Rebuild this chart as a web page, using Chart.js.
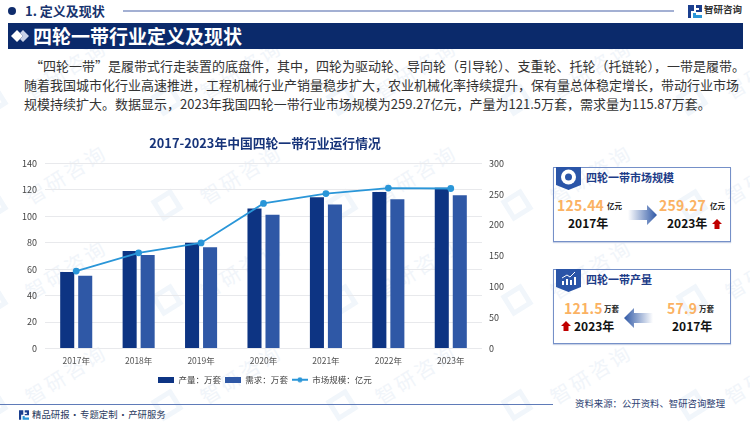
<!DOCTYPE html>
<html lang="zh">
<head>
<meta charset="utf-8">
<title>四轮一带行业定义及现状</title>
<script src="https://cdn.jsdelivr.net/npm/chart.js@4"></script>
<style>
  html, body { margin: 0; padding: 0; background: #fff; }
  body { width: 750px; height: 422px; position: relative; overflow: hidden;
         font-family: "Noto Sans CJK SC", "Noto Sans", sans-serif; }
  .abs { position: absolute; white-space: nowrap; line-height: 1; }
  .para { position: absolute; white-space: nowrap; font-size: 13px; line-height: 16px; color: #333;
          text-align: justify; text-align-last: justify; }
  .card { position: absolute; left: 553px; width: 178px; height: 75px; box-sizing: border-box;
          border: 1px solid #7590c8; box-shadow: 0 1px 1px #c9d2e6; }
  .num { color: #fbb263; font-weight: 700; font-size: 14px; letter-spacing: 0.2px; }
  .unit { color: #222; font-weight: 700; font-size: 7.5px; }
  .yr { color: #111; font-weight: 700; font-size: 12px; }
  .cardTitle { color: #1d3c88; font-weight: 700; font-size: 11px; }
  .wm { position: absolute; color: #f1f5fa; font-size: 20px; letter-spacing: 3px;
        transform: rotate(-32deg); white-space: nowrap; line-height: 1; }
  .wmMark { position: absolute; width: 24px; height: 24px; border: 5px solid #f1f6fb; box-sizing: border-box;
            transform: rotate(-32deg); }
  #chartBox { position: absolute; left: 10px; top: 132px; width: 510px; height: 262px; }
</style>
</head>
<body>
<div id="wmLayer"></div>

<!-- top strip -->
<div class="abs" style="left:8px;top:7px;width:8px;height:8px;border-radius:50%;background:#0f2c6c"></div>
<div class="abs" style="left:25px;top:4px;font-size:13px;font-weight:700;color:#17346f">1. 定义及现状</div>
<div class="abs" style="left:123px;top:10px;width:551px;height:2px;background:#a3b0d3"></div>
<svg class="abs" style="left:688px;top:5px" width="14" height="13" viewBox="0 0 14 13">
  <path d="M0 0h6v6H3v7H0z M8 0h6v7H8V5h3V3H8z" fill="#1b3f8f"/><path d="M5 8h3v2h6v3H5z" fill="#2a96d8"/>
</svg>
<div class="abs" style="left:704px;top:5px;font-size:9.5px;font-weight:700;color:#333">智研咨询</div>

<!-- header bar -->
<div class="abs" style="left:8px;top:23px;width:735px;height:26px;background:#0b2a6b"></div>
<svg class="abs" style="left:11px;top:29px" width="18" height="14" viewBox="0 0 18 14">
  <path d="M6 1l6 6-6 6-6-6z" fill="#fff"/><path d="M12 1l6 6-6 6-3-3 3-3-3-3z" fill="#c8d2e8"/>
</svg>
<div class="abs" style="left:33px;top:26px;font-size:19px;font-weight:700;color:#fff">四轮一带行业定义及现状</div>

<!-- intro text -->
<div class="para" style="left:30px;top:58px;width:700px">“四轮一带”是履带式行走装置的底盘件&#xFF0C;其中&#xFF0C;四轮为驱动轮、导向轮&#xFF08;引导轮&#xFF09;、支重轮、托轮&#xFF08;托链轮&#xFF09;&#xFF0C;一带是履带。</div>
<div class="para" style="left:24px;top:77px;width:701px">随着我国城市化行业高速推进&#xFF0C;工程机械行业产销量稳步扩大&#xFF0C;农业机械化率持续提升&#xFF0C;保有量总体稳定增长&#xFF0C;带动行业市场</div>
<div class="para" style="left:24px;top:96px;width:663px">规模持续扩大。数据显示&#xFF0C;2023年我国四轮一带行业市场规模为259.27亿元&#xFF0C;产量为121.5万套&#xFF0C;需求量为115.87万套。</div>

<div id="chartBox"><canvas id="mainChart"></canvas></div>

<!-- market size card -->
<div class="card" style="top:167px"></div>
<svg class="abs" style="left:556px;top:167px" width="25" height="23" viewBox="0 0 25 23">
  <path d="M0 0h25v18l-12.5 5L0 18z" fill="#2a55a8"/>
  <circle cx="12.5" cy="10" r="7.5" fill="#fff"/><circle cx="12.5" cy="10" r="3.5" fill="#2a55a8"/>
</svg>
<div class="abs cardTitle" style="left:586px;top:172px">四轮一带市场规模</div>
<div class="abs num" style="left:557px;top:198px">125.44</div>
<div class="abs unit" style="left:607px;top:202px">亿元</div>
<div class="abs yr" style="left:568px;top:217px">2017年</div>
<svg class="abs" style="left:628px;top:205px" width="29" height="20" viewBox="0 0 29 20">
  <defs><linearGradient id="gr" x1="0" x2="1" y1="0" y2="0"><stop offset="0" stop-color="#2f58a6" stop-opacity="0"/><stop offset="1" stop-color="#2f58a6"/></linearGradient></defs>
  <path d="M0 5h19V0l10 10-10 10v-5H0z" fill="url(#gr)"/>
</svg>
<div class="abs num" style="left:659px;top:198px">259.27</div>
<div class="abs unit" style="left:710px;top:202px">亿元</div>
<div class="abs yr" style="left:667px;top:217px">2023年</div>
<svg class="abs" style="left:712px;top:219px" width="10" height="10" viewBox="0 0 10 10"><path d="M5 0l5 5H7.5v5h-5V5H0z" fill="#c00000"/></svg>

<!-- output card -->
<div class="card" style="top:269px"></div>
<svg class="abs" style="left:556px;top:269px" width="25" height="23" viewBox="0 0 25 23">
  <path d="M0 0h25v18l-12.5 5L0 18z" fill="#2a55a8"/>
  <path d="M6 16v-4h2v4z M10 16v-6h2v6z M14 16v-5h2v5z M18 16V8h2v8z" fill="#fff"/>
  <path d="M6 9l5-3 3 2 5-5" stroke="#fff" fill="none"/>
</svg>
<div class="abs cardTitle" style="left:586px;top:274px">四轮一带产量</div>
<div class="abs num" style="left:564px;top:301px">121.5</div>
<div class="abs unit" style="left:604px;top:305px">万套</div>
<svg class="abs" style="left:561px;top:321px" width="10" height="10" viewBox="0 0 10 10"><path d="M5 0l5 5H7.5v5h-5V5H0z" fill="#c00000"/></svg>
<div class="abs yr" style="left:574px;top:320px">2023年</div>
<svg class="abs" style="left:624px;top:308px" width="29" height="20" viewBox="0 0 29 20">
  <defs><linearGradient id="gl" x1="0" x2="1" y1="0" y2="0"><stop offset="0" stop-color="#2f58a6"/><stop offset="1" stop-color="#2f58a6" stop-opacity="0"/></linearGradient></defs>
  <path d="M29 5H10V0L0 10l10 10v-5h19z" fill="url(#gl)"/>
</svg>
<div class="abs num" style="left:667px;top:301px">57.9</div>
<div class="abs unit" style="left:699px;top:305px">万套</div>
<div class="abs yr" style="left:672px;top:320px">2017年</div>

<!-- footer -->
<div class="abs" style="left:0;top:404px;width:553px;height:1px;background:#5f7bb8"></div>
<svg class="abs" style="left:19px;top:410px" width="10" height="10" viewBox="0 0 14 13">
  <path d="M0 0h6v6H3v7H0z M8 0h6v7H8V5h3V3H8z" fill="#1b3f8f"/><path d="M5 8h3v2h6v3H5z" fill="#2a96d8"/>
</svg>
<div class="abs" style="left:32px;top:410px;font-size:9.4px;word-spacing:-1.5px;color:#2b3a5e">精品研报 · 专题定制 · 产研服务</div>
<div class="abs" style="left:575px;top:399px;font-size:9.4px;color:#2d3f73">资料来源&#xFF1A;公开资料、智研咨询整理</div>

<script>
// data
const YEARS = ["2017年","2018年","2019年","2020年","2021年","2022年","2023年"];
const OUTPUT = [57.9, 73.7, 80, 105.8, 114.3, 118.3, 121.5];
const DEMAND = [55.1, 70.7, 76.5, 101.2, 108.8, 112.8, 115.87];
const MARKET = [125.44, 155, 171, 235, 251, 260, 259.27];
const LEFT_TICKS = [0, 20, 40, 60, 80, 100, 120, 140];
const RIGHT_TICKS = [0, 50, 100, 150, 200, 250, 300];

const DARK = "#0d3483";
const MID = "#2f58a6";
const SKY = "#2a96d8";
const FONT = '"Noto Sans CJK SC", "Noto Sans", sans-serif';

// pale watermark behind everything
const wmLayer = document.getElementById("wmLayer");
[65, 240, 415, 590, 765].forEach(cx => {
  [70, 175, 270, 375].forEach(cy => {
    const t = document.createElement("div");
    t.className = "wm"; t.textContent = "智研咨询";
    t.style.left = (cx - 45) + "px"; t.style.top = (cy - 11) + "px";
    wmLayer.appendChild(t);
    const m = document.createElement("div");
    m.className = "wmMark";
    m.style.left = (cx - 85) + "px"; m.style.top = (cy + 18) + "px";
    wmLayer.appendChild(m);
  });
});

// legend swatches
function barSwatch(color) {
  const c = document.createElement("canvas");
  c.width = 16; c.height = 6;
  const g = c.getContext("2d");
  g.fillStyle = color; g.fillRect(0, 0, 16, 6);
  return c;
}
function lineSwatch(color) {
  const c = document.createElement("canvas");
  c.width = 16; c.height = 6;
  const g = c.getContext("2d");
  g.fillStyle = color; g.fillRect(0, 2, 16, 2);
  g.beginPath(); g.arc(8, 3, 2.5, 0, Math.PI * 2); g.fill();
  return c;
}

new Chart(document.getElementById("mainChart"), {
  data: {
    labels: YEARS,
    datasets: [
      { type: "bar", label: "产量\uFF1A万套", data: OUTPUT, yAxisID: "y", order: 1,
        backgroundColor: DARK, categoryPercentage: 0.577, barPercentage: 0.78 },
      { type: "bar", label: "需求\uFF1A万套", data: DEMAND, yAxisID: "y", order: 2,
        backgroundColor: MID, categoryPercentage: 0.577, barPercentage: 0.78 },
      { type: "line", label: "市场规模\uFF1A亿元", data: MARKET, yAxisID: "y1", order: 0,
        borderColor: SKY, backgroundColor: SKY, borderWidth: 1.8, pointRadius: 2.5, tension: 0 }
    ]
  },
  options: {
    responsive: true,
    maintainAspectRatio: false,
    animation: false,
    plugins: {
      title: {
        display: true,
        text: "2017-2023年中国四轮一带行业运行情况",
        color: "#17347a",
        font: { family: FONT, size: 12.8, weight: "bold" },
        padding: { top: 3, bottom: 13 }
      },
      legend: {
        position: "bottom",
        labels: {
          color: "#444",
          font: { family: FONT, size: 8.5 },
          usePointStyle: true,
          pointStyleWidth: 16,
          boxHeight: 6,
          padding: 4,
          generateLabels(chart) {
            return chart.data.datasets.map((ds, i) => ({
              text: ds.label,
              datasetIndex: i,
              fontColor: "#444",
              lineWidth: 0,
              pointStyle: ds.type === "line" ? lineSwatch(SKY) : barSwatch(ds.backgroundColor)
            }));
          }
        }
      },
      tooltip: { enabled: false }
    },
    scales: {
      x: {
        grid: { display: false, drawTicks: false },
        border: { display: false },
        afterFit: axis => { axis.height = 23; },
        ticks: { color: "#555", font: { family: FONT, size: 8.5 }, maxRotation: 0, padding: 7 }
      },
      y: {
        min: 0, max: 140,
        afterBuildTicks: axis => { axis.ticks = LEFT_TICKS.map(v => ({ value: v })); },
        afterFit: axis => { axis.width = 35; },
        grid: { color: "#e8e9ec", drawTicks: false, lineWidth: 1 },
        border: { display: false },
        ticks: { color: "#444", font: { family: FONT, size: 9 }, padding: 8 }
      },
      y1: {
        position: "right",
        min: 0, max: 300,
        afterBuildTicks: axis => { axis.ticks = RIGHT_TICKS.map(v => ({ value: v })); },
        afterFit: axis => { axis.width = 38; },
        grid: { display: false, drawTicks: false },
        border: { display: false },
        ticks: { color: "#444", font: { family: FONT, size: 9 }, padding: 7 }
      }
    }
  }
});
</script>
</body>
</html>
